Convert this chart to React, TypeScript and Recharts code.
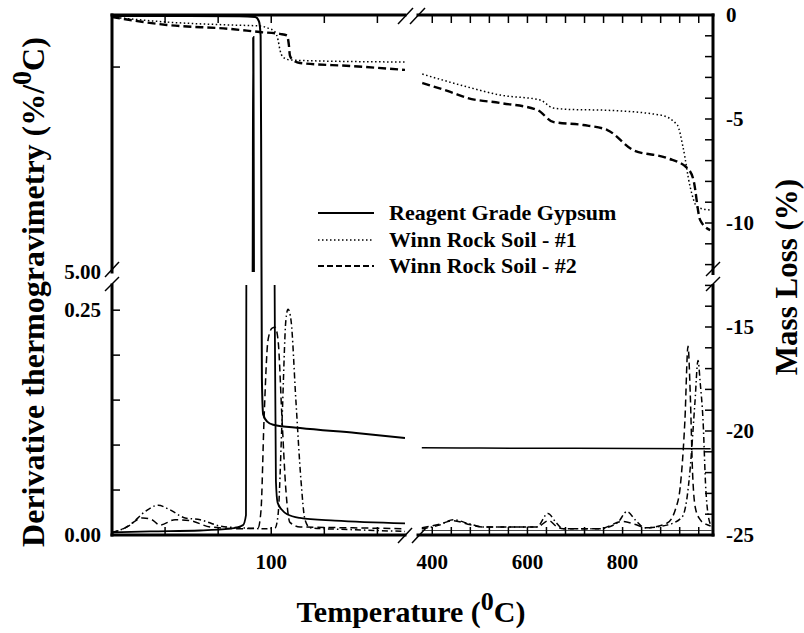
import React from 'react';
import { LineChart, Line, XAxis, YAxis } from 'recharts';

const W = 804;
const H = 633;
const serif = '"Liberation Serif", "Times New Roman", serif';

// broken temperature axis: low part and high part
const lowT = [25, 163];
const highT = [370, 990];
const lowTicks = [50, 75, 100, 125, 150];
const lowLabels = [100];
const highTicks = [400, 440, 480, 520, 560, 600, 640, 680, 720, 760, 800, 840, 880, 920, 960];
const highLabels = [400, 600, 800];

// broken DTG axis (left)
const dtgLow = [0, 0.278];
const dtgLowTicks = [0, 0.05, 0.1, 0.15, 0.2, 0.25];
const dtgLowLabels = [0, 0.25];
const dtgHigh = [5, 11.27];
const dtgHighTicks = [5, 10];
const dtgHighLabels = [5];

// mass loss axis (right)
const massDomain = [-25, 0];
const massTicks = [0, -1, -2, -3, -4, -5, -6, -7, -8, -9, -10, -11, -12, -13, -14, -15, -16, -17, -18, -19, -20, -21, -22, -23, -24, -25];
const massLabels = [0, -5, -10, -15, -20, -25];

// mass loss curves [temperature, %]
const gypsumTgLow = [
  [25, -0.05], [60, -0.05], [85, -0.06], [92.5, -0.1], [94.2, -0.3], [95.0, -1], [95.3, -8],
  [95.6, -17.5], [96.2, -19.2], [98.1, -19.55], [100.9, -19.7], [113.6, -19.86], [140, -20.1], [163, -20.34],
];
const gypsumTgHigh = [[378, -20.8], [500, -20.82], [700, -20.83], [985, -20.85]];
const winn1TgLow = [
  [25, -0.1], [50.9, -0.34], [80.6, -0.48], [94.7, -0.53], [98.5, -0.63], [101.8, -0.82], [103.2, -1.2],
  [104.1, -1.68], [105.5, -2.02], [108.8, -2.16], [123, -2.21], [163, -2.26],
];
const winn1TgHigh = [
  [379, -2.84], [474, -3.46], [543, -3.85], [627, -4.09], [654, -4.47], [700, -4.55], [753, -4.57],
  [879, -4.81], [915, -5.29], [927, -6.35], [942, -8.27], [957, -9.23], [984, -9.38],
];
const winn2TgLow = [
  [25, -0.1], [50.9, -0.48], [80.6, -0.67], [94.7, -0.82], [104.1, -0.91], [107.4, -0.98], [108.3, -1.44],
  [108.8, -1.95], [110.2, -2.16], [113.6, -2.31], [137.1, -2.45], [163, -2.64],
];
const winn2TgHigh = [
  [379, -3.27], [438, -3.7], [474, -3.99], [543, -4.23], [621, -4.57], [654, -5.14], [717, -5.29],
  [768, -5.53], [822, -6.49], [894, -6.88], [936, -7.36], [949, -7.93], [963, -9.86], [984, -10.34],
];

// derivative curves [temperature, %/C]
const gypsumDtgLow = [
  [25, 0.003], [43, 0.004], [66.5, 0.005], [80.6, 0.007], [86.7, 0.011], [88.1, 0.022], [88.8, 1.2],
  [91.3, 4.95], [91.55, 10.73], [91.8, 4.9], [101.5, 0.32], [102.2, 0.06], [103, 0.036], [105, 0.028],
  [107.5, 0.023], [113.5, 0.019], [130, 0.016], [163, 0.013],
];
const gypsumDtgHigh = [[378, 0.005], [600, 0.005], [800, 0.005], [988, 0.005]];
const winn1DtgLow = [
  [25, 0.003], [33.5, 0.011], [40.5, 0.026], [46.7, 0.033], [52.3, 0.028], [59.4, 0.019], [66.5, 0.017],
  [75.9, 0.01], [85.3, 0.008], [97.1, 0.007], [101.8, 0.008], [103.2, 0.022], [105.1, 0.128],
  [106.9, 0.239], [107.9, 0.251], [109.3, 0.239], [111.6, 0.15], [114, 0.061], [115.9, 0.017],
  [118.3, 0.008], [137.1, 0.006], [163, 0.004],
];
const winn2DtgLow = [
  [25, 0.002], [31.1, 0.008], [39.6, 0.019], [43.8, 0.017], [47.6, 0.011], [54.7, 0.017], [61.7, 0.016],
  [71.2, 0.009], [85.3, 0.007], [93.8, 0.008], [95.2, 0.028], [96.6, 0.128], [98.5, 0.217],
  [100.4, 0.23], [101.8, 0.231], [103.2, 0.217], [105.1, 0.128], [106.9, 0.05], [108.8, 0.014],
  [113.6, 0.009], [137.1, 0.008], [163, 0.007],
];
const winn1DtgHigh = [
  [378, 0.007], [415, 0.011], [444, 0.017], [475, 0.013], [506, 0.009], [620, 0.009], [643, 0.024],
  [660, 0.014], [675, 0.007], [752, 0.007], [790, 0.014], [809, 0.026], [828, 0.016], [847, 0.008],
  [893, 0.011], [925, 0.02], [935, 0.04], [941.7, 0.072], [952, 0.147], [958.5, 0.194], [963, 0.17],
  [969, 0.128], [975, 0.05], [983.7, 0.013], [988, 0.01],
];
const winn2DtgHigh = [
  [378, 0.008], [415, 0.012], [444, 0.016], [475, 0.012], [506, 0.009], [620, 0.009], [645, 0.016],
  [660, 0.01], [675, 0.007], [752, 0.007], [800, 0.015], [825, 0.012], [850, 0.008], [893, 0.013],
  [912, 0.03], [921, 0.053], [931, 0.128], [937.5, 0.21], [942, 0.16], [947, 0.07], [953, 0.03],
  [963, 0.017], [975, 0.012], [985, 0.01],
];

const pts = (a: number[][]) => a.map(([t, v]) => ({ t, v }));

const tickText: React.CSSProperties = { fontFamily: serif, fontWeight: 700, fontSize: 21, fill: '#000' };
const axisLine = { stroke: '#000', strokeWidth: 3, strokeLinecap: 'square' as const };

const bottomTick = (labels: number[]) => (p: any) => (
  <g>
    <line x1={p.x} y1={p.y} x2={p.x} y2={p.y - 8} stroke="#000" strokeWidth={1.5} />
    {labels.includes(p.payload.value) && (
      <text x={p.x} y={p.y + 34} textAnchor="middle" style={tickText}>{p.payload.value}</text>
    )}
  </g>
);
const topTick = (p: any) => (
  <line x1={p.x} y1={p.y} x2={p.x} y2={p.y + 8} stroke="#000" strokeWidth={1.5} />
);
const leftTick = (labels: number[], noLine: number[]) => (p: any) => (
  <g>
    {!noLine.includes(p.payload.value) && (
      <line x1={p.x} y1={p.y} x2={p.x + 8} y2={p.y} stroke="#000" strokeWidth={1.5} />
    )}
    {labels.includes(p.payload.value) && (
      <text x={p.x - 11} y={p.y + 7} textAnchor="end" style={tickText}>{p.payload.value.toFixed(2)}</text>
    )}
  </g>
);
const rightTick = (p: any) => (
  <g>
    <line x1={p.x} y1={p.y} x2={p.x - 8} y2={p.y} stroke="#000" strokeWidth={1.5} />
    {massLabels.includes(p.payload.value) && (
      <text x={p.x + 13} y={p.y + 7} textAnchor="start" style={tickText}>{p.payload.value}</text>
    )}
  </g>
);

const line = (data: number[][], style: any) => (
  <Line data={pts(data)} dataKey="v" type="monotone" stroke="#000" dot={false}
    isAnimationActive={false} xAxisId="x" yAxisId="y" {...style} />
);

const solidTg = { strokeWidth: 2 };
const dottedTg = { strokeWidth: 1.5, strokeDasharray: '1.5 2.5' };
const dashedTg = { strokeWidth: 2.4, strokeDasharray: '8 4' };
const solidDtg = { strokeWidth: 1.8 };
const dashDtg = { strokeWidth: 1.5, strokeDasharray: '7 4' };
const dashDotDtg = { strokeWidth: 1.5, strokeDasharray: '6 3 1.5 3' };

const layer: React.CSSProperties = { position: 'absolute', left: 0, top: 0 };

export default function App() {
  return (
    <div style={{ position: 'absolute', left: 0, top: 0, width: W, height: H, background: '#fff' }}>
      {/* mass loss, low temperatures */}
      <div style={layer}>
        <LineChart width={W} height={H} margin={{ left: 112, right: 399, top: 14, bottom: 98 }}>
          <XAxis xAxisId="x" orientation="top" dataKey="t" type="number" domain={lowT} ticks={lowTicks}
            interval={0} height={1} tickSize={0} tickMargin={0} tickLine={false} tick={topTick}
            axisLine={axisLine} allowDataOverflow />
          <YAxis yAxisId="y" orientation="right" type="number" domain={massDomain} hide allowDataOverflow />
          {line(gypsumTgLow, solidTg)}
          {line(winn1TgLow, dottedTg)}
          {line(winn2TgLow, dashedTg)}
        </LineChart>
      </div>
      {/* mass loss, high temperatures */}
      <div style={layer}>
        <LineChart width={W} height={H} margin={{ left: 418, right: 90, top: 14, bottom: 98 }}>
          <XAxis xAxisId="x" orientation="top" dataKey="t" type="number" domain={highT} ticks={highTicks}
            interval={0} height={1} tickSize={0} tickMargin={0} tickLine={false} tick={topTick}
            axisLine={axisLine} allowDataOverflow />
          <YAxis yAxisId="y" orientation="right" type="number" domain={massDomain} ticks={massTicks}
            interval={0} width={1} tickSize={0} tickMargin={0} tickLine={false} tick={rightTick}
            axisLine={axisLine} allowDataOverflow />
          {line(gypsumTgHigh, { strokeWidth: 1.5 })}
          {line(winn1TgHigh, dottedTg)}
          {line(winn2TgHigh, dashedTg)}
        </LineChart>
      </div>
      {/* DTG lower panel, low temperatures */}
      <div style={layer}>
        <LineChart width={W} height={H} margin={{ left: 111, right: 399, top: 285, bottom: 97 }}>
          <XAxis xAxisId="x" dataKey="t" type="number" domain={lowT} ticks={lowTicks} interval={0}
            height={1} tickSize={0} tickMargin={0} tickLine={false} tick={bottomTick(lowLabels)}
            axisLine={axisLine} allowDataOverflow />
          <YAxis yAxisId="y" type="number" domain={dtgLow} ticks={dtgLowTicks} interval={0} width={1}
            tickSize={0} tickMargin={0} tickLine={false} tick={leftTick(dtgLowLabels, [])}
            axisLine={axisLine} allowDataOverflow />
          {line(gypsumDtgLow, solidDtg)}
          {line(winn1DtgLow, dashDotDtg)}
          {line(winn2DtgLow, dashDtg)}
        </LineChart>
      </div>
      {/* DTG lower panel, high temperatures */}
      <div style={layer}>
        <LineChart width={W} height={H} margin={{ left: 418, right: 91, top: 285, bottom: 97 }}>
          <XAxis xAxisId="x" dataKey="t" type="number" domain={highT} ticks={highTicks} interval={0}
            height={1} tickSize={0} tickMargin={0} tickLine={false} tick={bottomTick(highLabels)}
            axisLine={axisLine} allowDataOverflow />
          <YAxis yAxisId="y" type="number" domain={dtgLow} hide allowDataOverflow />
          {line(gypsumDtgHigh, { strokeWidth: 1.2, stroke: '#444' })}
          {line(winn1DtgHigh, dashDotDtg)}
          {line(winn2DtgHigh, dashDtg)}
        </LineChart>
      </div>
      {/* DTG upper panel (above the break) */}
      <div style={layer}>
        <LineChart width={W} height={H} margin={{ left: 111, right: 399, top: 15, bottom: 361 }}>
          <XAxis xAxisId="x" dataKey="t" type="number" domain={lowT} hide allowDataOverflow />
          <YAxis yAxisId="y" type="number" domain={dtgHigh} ticks={dtgHighTicks} interval={0} width={1}
            tickSize={0} tickMargin={0} tickLine={false} tick={leftTick(dtgHighLabels, [5])}
            axisLine={axisLine} allowDataOverflow />
          {line(gypsumDtgLow, { strokeWidth: 2.2 })}
        </LineChart>
      </div>
      {/* breaks, legend, titles */}
      <svg width={W} height={H} style={{ ...layer, pointerEvents: 'none' }}>
        <rect x={709} y={275} width={8} height={9} fill="#fff" />
        <g stroke="#000" strokeWidth={1.5}>
          <line x1={398} y1={24} x2={413} y2={8} />
          <line x1={410} y1={24} x2={425} y2={8} />
          <line x1={398} y1={543} x2={412} y2={528} />
          <line x1={412} y1={543} x2={426} y2={528} />
          <line x1={105} y1={277} x2={119} y2={262} />
          <line x1={105} y1={291} x2={119} y2={277} />
          <line x1={706} y1={276} x2={720} y2={262} />
          <line x1={706} y1={291} x2={720} y2={277} />
        </g>
        <g style={{ fontFamily: serif, fontWeight: 700, fontSize: 22, whiteSpace: 'pre' }}>
          <line x1={318} y1={213} x2={374} y2={213} stroke="#000" strokeWidth={2} />
          <text x={389} y={220}>Reagent Grade Gypsum</text>
          <line x1={318} y1={240} x2={374} y2={240} stroke="#000" strokeWidth={1.5} strokeDasharray="1.5 2.5" />
          <text x={389} y={247}>Winn Rock Soil - #1</text>
          <line x1={318} y1={266} x2={374} y2={266} stroke="#000" strokeWidth={2} strokeDasharray="6 3" />
          <text x={389} y={273}>Winn Rock Soil  - #2</text>
        </g>
        <g style={{ fontFamily: serif, fontWeight: 700, fontSize: 30 }}>
          <text x={411} y={622} textAnchor="middle">
            Temperature (<tspan dy={-12} fontSize={26}>0</tspan><tspan dy={12}>C)</tspan>
          </text>
          <text x={44} y={292} textAnchor="middle" transform="rotate(-90 44 292)" fontSize={32}>
            Derivative thermogravimetry (%/<tspan dy={-13} fontSize={28}>0</tspan><tspan dy={13}>C)</tspan>
          </text>
          <text x={797} y={277} textAnchor="middle" transform="rotate(-90 797 277)" fontSize={31}>Mass Loss (%)</text>
        </g>
      </svg>
    </div>
  );
}
